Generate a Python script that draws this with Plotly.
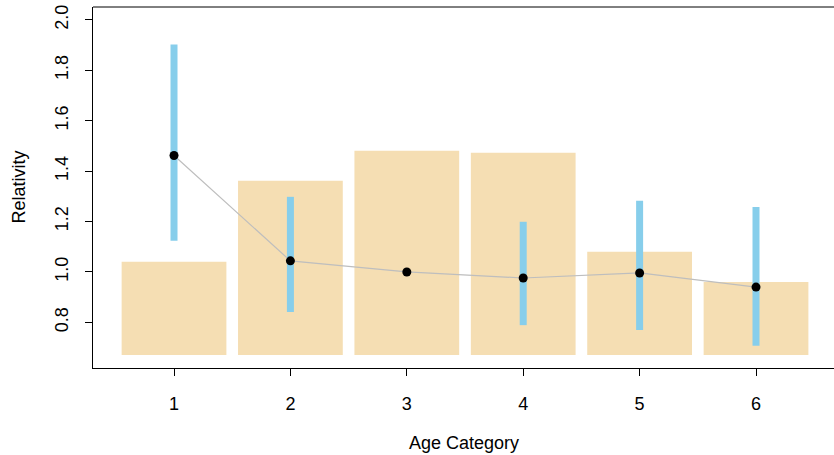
import plotly.graph_objects as go

categories = [1, 2, 3, 4, 5, 6]
bar_heights = [1.04, 1.362, 1.481, 1.473, 1.08, 0.96]
bar_base = 0.671
relativity = [1.462, 1.044, 1.000, 0.976, 0.996, 0.940]
ci_lower = [1.124, 0.841, None, 0.789, 0.770, 0.707]
ci_upper = [1.902, 1.298, None, 1.199, 1.282, 1.258]
y_ticks = [0.8, 1.0, 1.2, 1.4, 1.6, 1.8, 2.0]
y_ticklabels = ["0.8", "1.0", "1.2", "1.4", "1.6", "1.8", "2.0"]

FONT = "Liberation Sans, Arial, Helvetica, sans-serif"

fig = go.Figure()

fig.add_trace(go.Bar(
    x=categories,
    y=[h - bar_base for h in bar_heights],
    base=[bar_base] * len(categories),
    width=0.9,
    marker=dict(color="#F5DEB3", line=dict(width=0)),
    hoverinfo="skip",
))

fig.add_trace(go.Scatter(
    x=categories, y=relativity, mode="lines",
    line=dict(color="#BEBEBE", width=1.2),
    hoverinfo="skip",
))

ex, ey = [], []
for c, lo, hi in zip(categories, ci_lower, ci_upper):
    if lo is None or hi is None:
        continue
    ex += [c, c, None]
    ey += [lo, hi, None]
fig.add_trace(go.Scatter(
    x=ex, y=ey, mode="lines",
    line=dict(color="#87CEEB", width=7),
    hoverinfo="skip",
))

fig.add_trace(go.Scatter(
    x=categories, y=relativity, mode="markers",
    marker=dict(color="black", size=9),
    hoverinfo="skip",
))

fig.update_layout(
    width=834, height=455,
    margin=dict(l=93, r=0, t=7, b=87),
    paper_bgcolor="white", plot_bgcolor="white",
    showlegend=False,
    font=dict(family=FONT, size=18, color="black"),
    xaxis=dict(
        range=[0.304, 6.67],
        tickmode="array", tickvals=categories, ticktext=[str(c) for c in categories],
        ticks="outside", ticklen=7, tickcolor="black", tickwidth=1,
        showline=True, linecolor="black", linewidth=1,
        showgrid=False, zeroline=False,
        ticklabelstandoff=12,
    ),
    yaxis=dict(
        range=[0.619, 2.051],
        tickmode="array", tickvals=y_ticks, ticktext=y_ticklabels,
        tickangle=-90,
        ticks="outside", ticklen=7, tickcolor="black", tickwidth=1,
        showline=True, linecolor="black", linewidth=1,
        showgrid=False, zeroline=False,
        ticklabelstandoff=10,
    ),
    shapes=[dict(type="line", xref="paper", yref="paper", x0=0, x1=1, y0=1, y1=1,
                 line=dict(color="black", width=1))],
    annotations=[
        dict(text="Age Category", xref="paper", yref="paper", x=0.5, y=0,
             xanchor="center", yanchor="middle", yshift=-75, showarrow=False,
             font=dict(family=FONT, size=18)),
        dict(text="Relativity", xref="paper", yref="paper", x=0, y=0.5,
             xanchor="center", yanchor="middle", xshift=-75, textangle=-90,
             showarrow=False, font=dict(family=FONT, size=18)),
    ],
)

fig.write_html(
    "out.html",
    config={"displayModeBar": False},
    post_script="document.body.style.margin='0';document.body.style.padding='0';",
)
